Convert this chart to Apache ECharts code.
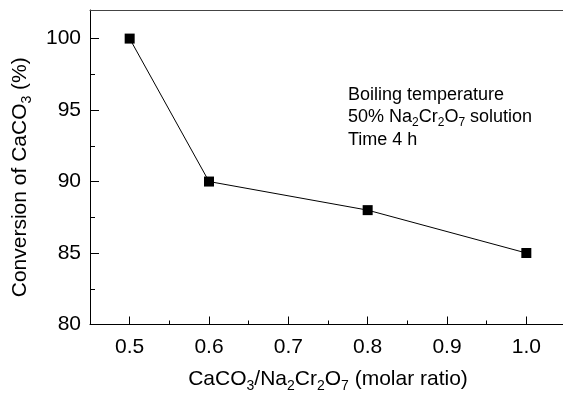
<!DOCTYPE html>
<html>
<head>
<meta charset="utf-8">
<script src="https://cdn.jsdelivr.net/npm/echarts@6/dist/echarts.min.js"></script>
<style>
  html, body { margin: 0; padding: 0; background: #fff; }
  #chart { width: 563px; height: 397px; }
</style>
</head>
<body>
<div id="chart"></div>
<script>
// molar ratio CaCO3/Na2Cr2O7 vs conversion (%)
const ratios = [0.5, 0.6, 0.8, 1.0]
const conversion = [100, 90, 88, 85]

const xTicks = [0.5, 0.6, 0.7, 0.8, 0.9, 1.0]
const xMinorTicks = [0.55, 0.65, 0.75, 0.85, 0.95]
const yTicks = [80, 85, 90, 95, 100]
const yMinorTicks = [82.5, 87.5, 92.5, 97.5]

const FONT = "'Liberation Sans', Arial, sans-serif"
// tall line box for normal text, subscripts sit at its bottom
const base = { fontFamily: FONT, fontSize: 21, lineHeight: 28, color: '#000' }
const sub = { fontFamily: FONT, fontSize: 14, lineHeight: 11, verticalAlign: 'bottom', color: '#000' }

const chart = echarts.init(document.getElementById('chart'), null, { renderer: 'canvas' })

const xCommon = { type: 'value', min: 0.45, max: 1.05, splitLine: { show: false } }
const yCommon = { type: 'value', min: 80, max: 102, position: 'left', splitLine: { show: false } }

const option = {
  animation: false,
  backgroundColor: '#fff',
  grid: {
    left: 90, top: 10, width: 476, height: 314.5,
    outerBoundsMode: 'none'
  },
  xAxis: [
    {
      ...xCommon,
      position: 'bottom',
      name: '{n|CaCO}{s|3}{n|/Na}{s|2}{n|Cr}{s|2}{n|O}{s|7}{n| (molar ratio)}',
      nameLocation: 'middle',
      nameGap: 41,
      nameTextStyle: { rich: { n: base, s: sub } },
      axisLine: { lineStyle: { color: '#000', width: 1 } },
      axisTick: { inside: true, length: 8, customValues: xTicks, lineStyle: { color: '#000' } },
      axisLabel: {
        customValues: xTicks, margin: 12, color: '#000', fontFamily: FONT, fontSize: 21,
        formatter: v => v.toFixed(1)
      }
    },
    {
      ...xCommon,
      position: 'bottom',
      axisLine: { show: false },
      axisTick: { inside: true, length: 4, customValues: xMinorTicks, lineStyle: { color: '#000' } },
      axisLabel: { show: false }
    },
    {
      // frame line along the top
      ...xCommon,
      position: 'top',
      axisLine: { lineStyle: { color: '#444', width: 1 } },
      axisTick: { show: false },
      axisLabel: { show: false }
    }
  ],
  yAxis: [
    {
      ...yCommon,
      name: '{n|Conversion of CaCO}{s|3}{n| (%)}',
      nameLocation: 'middle',
      nameGap: 56,
      nameTextStyle: { rich: { n: base, s: sub }, padding: [0, 20, 0, 0] },
      axisLine: { show: true, lineStyle: { color: '#000', width: 1 } },
      axisTick: { show: true, inside: true, length: 9, customValues: yTicks, lineStyle: { color: '#000' } },
      axisLabel: { customValues: yTicks, margin: 9, color: '#000', fontFamily: FONT, fontSize: 21 }
    },
    {
      ...yCommon,
      axisLine: { show: false },
      axisTick: { show: true, inside: true, length: 5, customValues: yMinorTicks, lineStyle: { color: '#000' } },
      axisLabel: { show: false }
    }
  ],
  graphic: [
    {
      type: 'text',
      left: 348,
      top: 86,
      style: {
        text: '{n|Boiling temperature}\n{n|50% Na}{s|2}{n|Cr}{s|2}{n|O}{s|7}{n| solution}\n{n|Time 4 h}',
        rich: {
          n: { fontFamily: FONT, fontSize: 18, lineHeight: 22.5, fill: '#000' },
          s: { fontFamily: FONT, fontSize: 12, lineHeight: 7.5, verticalAlign: 'bottom', fill: '#000' }
        }
      }
    }
  ],
  series: [
    {
      type: 'line',
      data: ratios.map((r, i) => [r, conversion[i]]),
      symbol: 'rect',
      symbolSize: 10,
      itemStyle: { color: '#000' },
      lineStyle: { color: '#000', width: 1 }
    }
  ]
}

chart.setOption(option)
</script>
</body>
</html>
